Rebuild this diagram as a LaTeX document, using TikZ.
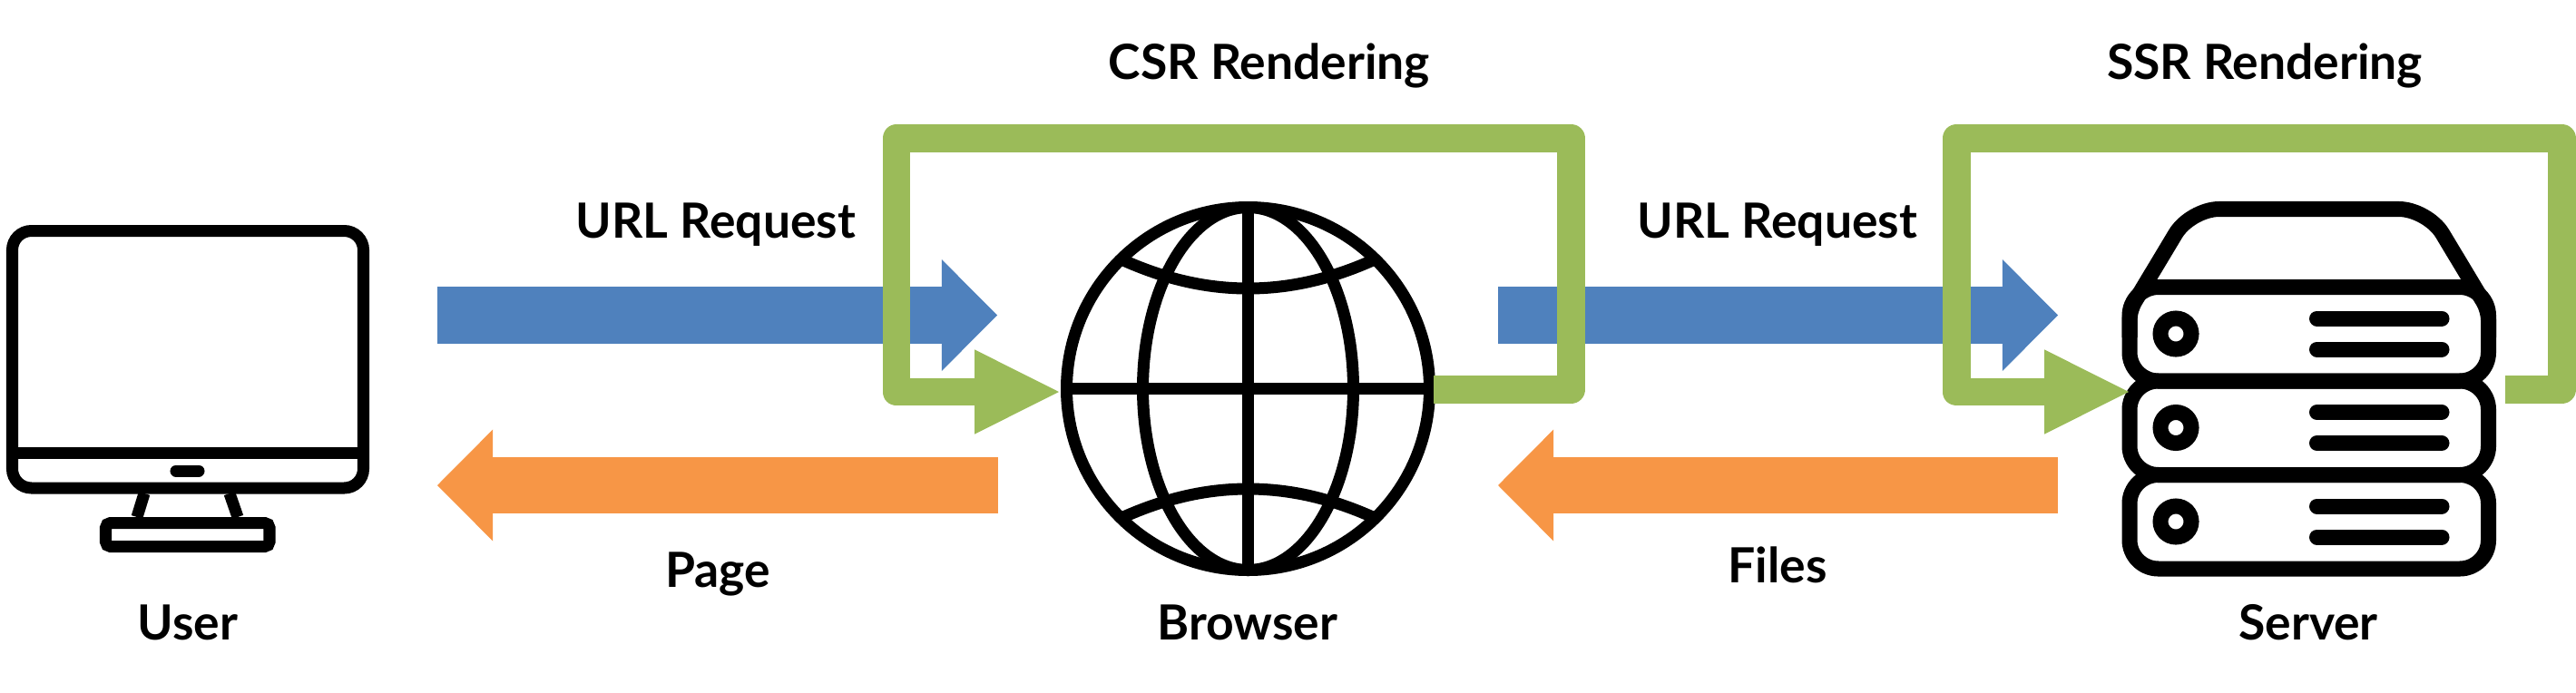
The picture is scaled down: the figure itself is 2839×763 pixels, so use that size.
\documentclass[tikz,border=0pt]{standalone}
\usepackage{fontspec}
\setmainfont{Lato}
\usetikzlibrary{arrows.meta}
\definecolor{reqblue}{HTML}{4F81BD}
\definecolor{resporange}{HTML}{F79646}
\definecolor{rendergreen}{HTML}{9BBB59}
\tikzset{
    icon/.style={line width=3.7pt,black},
    rack/.style={line width=4.84pt,black},
    reqarrow/.style={line width=17.9pt,reqblue,-{Triangle[line width=0pt,length=17.4pt,width=35pt]}},
    resparrow/.style={line width=17.9pt,resporange,-{Triangle[line width=0pt,length=17.4pt,width=35pt]}},
    renderloop/.style={line width=8.8pt,rendergreen,line join=round,-{Triangle[line width=0pt,length=26.4pt,width=26.5pt]}},
    caption/.style={anchor=base,font=\bfseries\fontsize{15.2}{18}\selectfont,inner sep=0pt}
}
\begin{document}
\begin{tikzpicture}[x=0.01cm,y=-0.01cm]
    \useasboundingbox (0,0) rectangle (2839,763);

    % arrow ends
    \coordinate (reqAfrom) at (482,347.5);
    \coordinate (reqAto) at (1099,347.5);
    \coordinate (reqBfrom) at (1651,347.5);
    \coordinate (reqBto) at (2268,347.5);
    \coordinate (pageFrom) at (1100,535);
    \coordinate (pageTo) at (482,535);
    \coordinate (filesFrom) at (2268,535);
    \coordinate (filesTo) at (1651,535);

    \draw[reqarrow] (reqAfrom) -- (reqAto);
    \draw[reqarrow] (reqBfrom) -- (reqBto);
    \draw[resparrow] (pageFrom) -- (pageTo);
    \draw[resparrow] (filesFrom) -- (filesTo);

    % user
    \draw[icon,rounded corners=6pt] (13.5,254.5) rectangle (400.5,538);
    \draw[icon] (13.5,499) -- (400.5,499);
    \draw[icon,line cap=round] (194,519) -- (219,519);
    \draw[icon] (159,544) -- (151,570);
    \draw[icon] (253,544) -- (262,570);
    \draw[icon,rounded corners=1.5pt] (116.5,576.5) rectangle (297,602.5);

    % browser
    \coordinate (globe) at (1375.5,428.5);
    \draw[icon] (globe) circle[radius=200];
    \draw[icon] (globe) ellipse[x radius=116,y radius=200];
    \draw[icon] (1375.5,228.5) -- (1375.5,628.5);
    \draw[icon] (1175.5,428) -- (1575.5,428);
    \foreach \a/\c/\b in {286.5/308/318,570.5/549/539}{
        \draw[icon] (1237,\a) .. controls (1285,\c) and (1330,\b) .. (1375.5,\b)
            .. controls (1421,\b) and (1466,\c) .. (1514,\a);
    }

    % server
    \draw[rack] (2347,372) [rounded corners=3pt] -- (2347,342) [rounded corners=9pt] -- (2414,230.5) -- (2675.5,230.5)
        [rounded corners=3pt] -- (2742.5,342) -- (2742.5,372);
    \foreach \k in {0,1,2}{
        \draw[rack,rounded corners=9pt] (2347,{316.5+103.5*\k}) rectangle (2742.5,{420+103.5*\k});
        \draw[rack] (2398,{368+103.5*\k}) circle[radius=17];
        \foreach \y in {351,385}{
            \draw[rack,line cap=round] (2553.5,{\y+103.5*\k}) -- (2691,{\y+103.5*\k});
        }
    }

    % render loops
    \coordinate (csrStart) at (1580,429.5);
    \coordinate (csrEnd) at (1167,432);
    \coordinate (ssrStart) at (2761,429.5);
    \coordinate (ssrEnd) at (2346,432);
    \draw[renderloop] (csrStart) -- (1731.5,429.5) -- (1731.5,152.5) -- (988,152.5) -- (988,432) -- (csrEnd);
    \draw[renderloop] (ssrStart) -- (2823.5,429.5) -- (2823.5,152.5) -- (2156,152.5) -- (2156,432) -- (ssrEnd);

    % labels
    \node[caption] (csr) at (1399,87) {CSR Rendering};
    \node[caption] (ssr) at (2496,87) {SSR Rendering};
    \node[caption] (urlA) at (789,262) {URL Request};
    \node[caption] (urlB) at (1959,262) {URL Request};
    \node[caption] (page) at (791,647) {Page};
    \node[caption] (files) at (1959,642) {Files};
    \node[caption] (user) at (207,705) {User};
    \node[caption] (browser) at (1375,705) {Browser};
    \node[caption] (server) at (2544,705) {Server};
\end{tikzpicture}
\end{document}
